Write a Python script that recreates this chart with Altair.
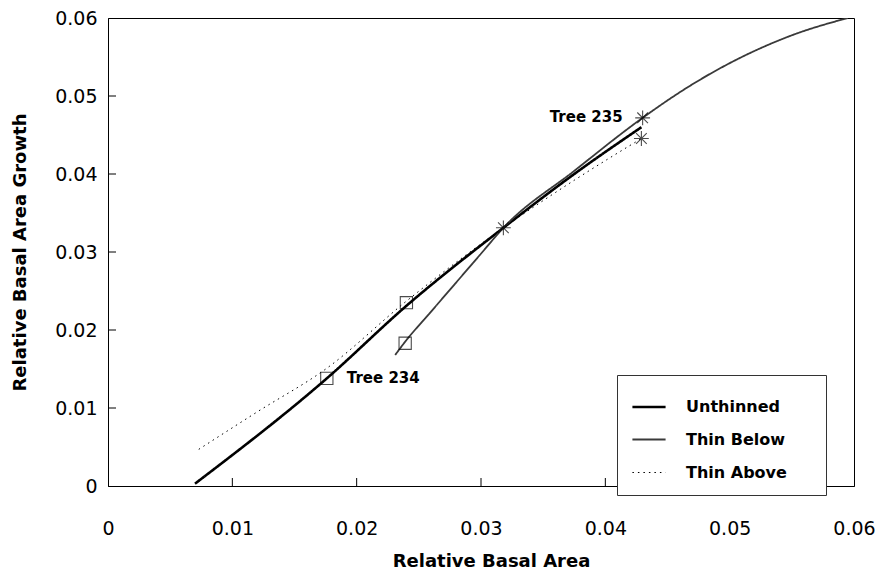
import altair as alt
import pandas as pd

# ---------------- data ----------------
series_names = ["Unthinned", "Thin Below", "Thin Above"]

unthinned_x = [0.0070, 0.0176, 0.0240, 0.0318, 0.0375, 0.0429]
unthinned_y = [0.0003, 0.0138, 0.0231, 0.0331, 0.0400, 0.0460]

thin_below_x = [0.0231, 0.0239, 0.0259, 0.0279, 0.0299, 0.0318, 0.0375,
                0.0430, 0.0466, 0.0506, 0.0552, 0.0595]
thin_below_y = [0.0168, 0.0185, 0.0222, 0.0259, 0.0296, 0.0331, 0.0404,
                0.0472, 0.0511, 0.0547, 0.0579, 0.0600]

thin_above_x = [0.0073, 0.0120, 0.0176, 0.0240, 0.0318, 0.0375, 0.0429]
thin_above_y = [0.0047, 0.0095, 0.0151, 0.0237, 0.0331, 0.0392, 0.04455]

square_x = [0.0176, 0.0240, 0.0239]
square_y = [0.0138, 0.0235, 0.0183]

star_x = [0.0318, 0.0430, 0.0429]
star_y = [0.0331, 0.0472, 0.04455]

label_text = ["Tree 234", "Tree 235"]
label_x = [0.0176, 0.0430]
label_y = [0.0138, 0.0472]

axis_values = [0, 0.01, 0.02, 0.03, 0.04, 0.05, 0.06]
inner_ticks = [0.01, 0.02, 0.03, 0.04, 0.05]

# ---------------- tables ----------------
rows = []
for name, xs, ys in [("Unthinned", unthinned_x, unthinned_y),
                     ("Thin Below", thin_below_x, thin_below_y),
                     ("Thin Above", thin_above_x, thin_above_y)]:
    for i, (a, b) in enumerate(zip(xs, ys)):
        rows.append({"series": name, "x": a, "y": b, "order": i})
lines_df = pd.DataFrame(rows)
squares_df = pd.DataFrame({"x": square_x, "y": square_y})
stars_df = pd.DataFrame({"x": star_x, "y": star_y})
lab234 = pd.DataFrame({"x": label_x[:1], "y": label_y[:1], "t": label_text[:1]})
lab235 = pd.DataFrame({"x": label_x[1:], "y": label_y[1:], "t": label_text[1:]})
xt_df = pd.DataFrame({"x": inner_ticks})
yt_df = pd.DataFrame({"y": inner_ticks})

FONT = "DejaVu Sans"
W, H = 746, 468
LABEL_EXPR = "datum.value == 0 ? '0' : format(datum.value, '.2f')"

xscale = alt.Scale(domain=[0, 0.06], nice=False, zero=False)
yscale = alt.Scale(domain=[0, 0.06], nice=False, zero=False)


def X():
    return alt.X("x:Q", scale=xscale, title="Relative Basal Area",
                 axis=alt.Axis(values=axis_values, ticks=False, grid=False,
                               labelExpr=LABEL_EXPR, labelFlush=False,
                               labelPadding=33, titlePadding=14, titleX=383,
                               labelFont=FONT, labelFontSize=19,
                               titleFont=FONT, titleFontSize=18,
                               titleFontWeight="bold",
                               labelColor="black", titleColor="black",
                               domainColor="black"))


def Y():
    return alt.Y("y:Q", scale=yscale, title="Relative Basal Area Growth",
                 axis=alt.Axis(values=axis_values, ticks=False, grid=False,
                               labelExpr=LABEL_EXPR, labelFlush=False,
                               labelPadding=11, titlePadding=25,
                               labelFont=FONT, labelFontSize=19,
                               titleFont=FONT, titleFontSize=18,
                               titleFontWeight="bold",
                               labelColor="black", titleColor="black",
                               domainColor="black"))


def LEG():
    # trailing blank (non-whitespace) glyphs widen the legend box like the reference
    return alt.Legend(title=None, labelExpr="datum.label + '\u2800\u2800'")


lines = alt.Chart(lines_df).mark_line(clip=True, interpolate="monotone").encode(
    x=X(), y=Y(),
    order="order:Q",
    color=alt.Color("series:N", legend=LEG(),
                    scale=alt.Scale(domain=series_names,
                                    range=["black", "#3a3a3a", "black"])),
    strokeDash=alt.StrokeDash("series:N", legend=LEG(),
                              scale=alt.Scale(domain=series_names,
                                              range=[[1, 0], [1, 0], [1.5, 4]])),
    strokeWidth=alt.StrokeWidth("series:N", legend=LEG(),
                                scale=alt.Scale(domain=series_names,
                                                range=[2.6, 1.0, 1.6])),
)

squares = alt.Chart(squares_df).mark_point(
    shape="square", filled=False, color="black", size=150, strokeWidth=1.1
).encode(x=X(), y=Y())

star_path = "M-1,0L1,0M0,-1L0,1M-0.72,-0.72L0.72,0.72M-0.72,0.72L0.72,-0.72"
stars = alt.Chart(stars_df).mark_point(
    shape=star_path, filled=False, color="black", size=220, strokeWidth=1.1
).encode(x=X(), y=Y())

t234 = alt.Chart(lab234).mark_text(
    align="left", baseline="middle", dx=20, font=FONT, fontSize=15,
    fontWeight="bold", color="black"
).encode(x=X(), y=Y(), text="t:N")

t235 = alt.Chart(lab235).mark_text(
    align="right", baseline="middle", dx=-20, dy=-1, font=FONT, fontSize=15,
    fontWeight="bold", color="black"
).encode(x=X(), y=Y(), text="t:N")

xticks = alt.Chart(xt_df).mark_rule(color="black", strokeWidth=1).encode(
    x=X(), y=alt.value(H), y2=alt.value(H - 8))
yticks = alt.Chart(yt_df).mark_rule(color="black", strokeWidth=1).encode(
    y=Y(), x=alt.value(0), x2=alt.value(8))

chart = alt.layer(xticks, yticks, lines, squares, stars, t234, t235).properties(
    width=W, height=H,
    autosize=alt.AutoSizeParams(type="none"),
    padding={"left": 100, "top": 10, "right": 21, "bottom": 87},
    background="white",
).configure_view(
    stroke="black", strokeWidth=1
).configure_legend(
    orient="none", legendX=509, legendY=357,
    strokeColor="#333", fillColor="white", padding=14,
    symbolType="stroke", symbolSize=1100, rowPadding=7,
    labelFont=FONT, labelFontSize=16, labelFontWeight="bold",
    labelColor="black", labelOffset=19,
)

chart.save("out.html", embed_options={"renderer": "svg", "actions": False})
